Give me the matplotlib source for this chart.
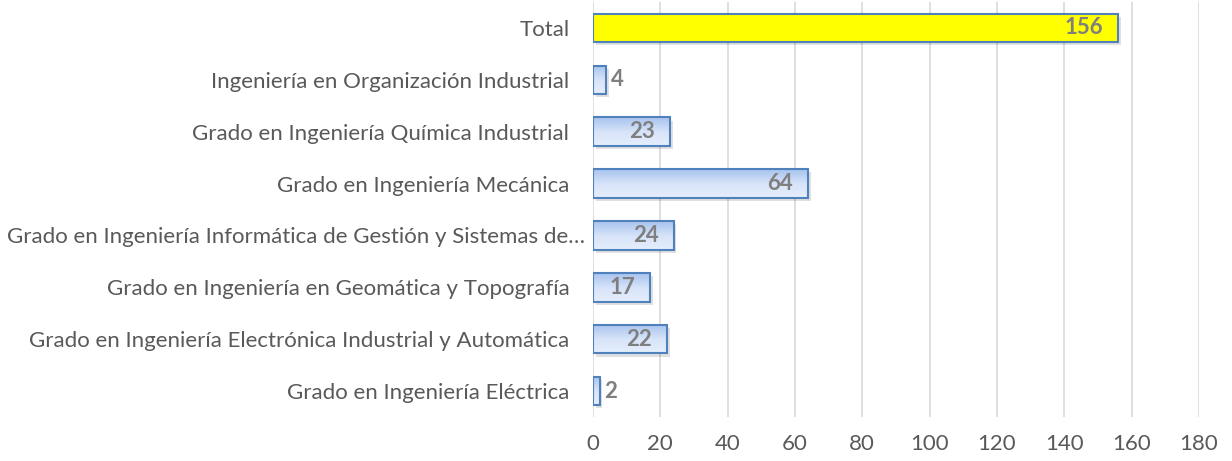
import matplotlib
matplotlib.use("Agg")
import matplotlib.pyplot as plt
import matplotlib.transforms as mtransforms
import numpy as np
from matplotlib.colors import LinearSegmentedColormap

categories = [
    "Grado en Ingeniería Eléctrica",
    "Grado en Ingeniería Electrónica Industrial y Automática",
    "Grado en Ingeniería en Geomática y Topografía",
    "Grado en Ingeniería Informática de Gestión y Sistemas de…",
    "Grado en Ingeniería Mecánica",
    "Grado en Ingeniería Química Industrial",
    "Ingeniería en Organización Industrial",
    "Total",
]
values = [2, 22, 17, 24, 64, 23, 4, 156]
xticks = [0, 20, 40, 60, 80, 100, 120, 140, 160, 180]

plt.rcParams['font.family'] = ['Lato', 'DejaVu Sans']

fig = plt.figure(figsize=(12.32, 4.61), dpi=100)
ax = fig.add_axes([0.4813, 0.0954, 0.4919, 0.9003])

ypos = np.arange(len(categories))
h = 0.55
edge = "#4f81bd"
grad = np.linspace(0, 1, 64).reshape(-1, 1)
cmap = LinearSegmentedColormap.from_list("b", ["#a7c3ee", "#d6e3f8", "#e6eefb"])

bars = ax.barh(ypos, values, height=h, color="none", edgecolor=edge, linewidth=1.5, zorder=3)
for i, (b, v) in enumerate(zip(bars, values)):
    # shadow
    ax.barh(ypos[i] - 0.06, v, left=0.8, height=h, color="#000000", alpha=0.12, linewidth=0, zorder=2)
    if categories[i] == "Total":
        b.set_facecolor("#ffff00")
    else:
        im = ax.imshow(grad, cmap=cmap, aspect="auto", extent=[0, v, ypos[i] - h / 2, ypos[i] + h / 2],
                       origin="upper", zorder=2.5, interpolation="bilinear")
        im.set_clip_path(b)
    if v >= 10:
        ax.text(v - 4.5, ypos[i], str(v), ha="right", va="center", fontsize=16, fontweight="bold",
                color="#7f7f7f", zorder=4)
    else:
        ax.text(v + 1.2, ypos[i], str(v), ha="left", va="center", fontsize=16, fontweight="bold",
                color="#7f7f7f", zorder=4)

ax.set_xlim(0, 180)
ax.set_ylim(-0.5, len(categories) - 0.5)
ax.set_xticks(xticks)
ax.set_yticks(ypos)
ax.set_yticklabels(categories)
ax.tick_params(axis="both", length=0, colors="#595959", labelsize=16)
ax.tick_params(axis="y", pad=17)
ax.tick_params(axis="x", pad=12)
ax.grid(axis="x", color="#d9d9d9", linewidth=1.2, zorder=0)
ax.set_axisbelow(True)
for s in ax.spines.values():
    s.set_visible(False)

# the truncated long label sits slightly further right in the reference
for lab in ax.get_yticklabels():
    if lab.get_text().endswith("…"):
        lab.set_transform(lab.get_transform() + mtransforms.ScaledTranslation(0.16, 0, fig.dpi_scale_trans))

fig.savefig("out.png", dpi=100)
